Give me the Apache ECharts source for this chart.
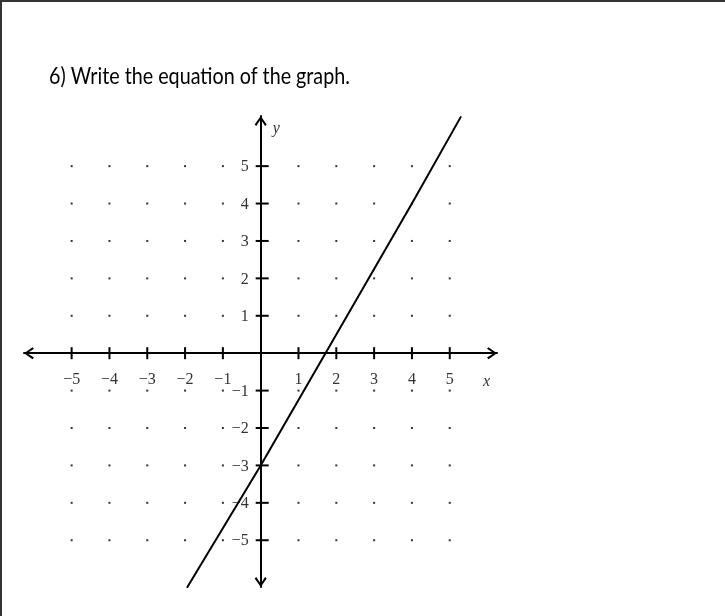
<!DOCTYPE html>
<html>
<head>
<meta charset="utf-8">
<script src="https://cdn.jsdelivr.net/npm/echarts@6/dist/echarts.min.js"></script>
<style>
html, body { margin: 0; padding: 0; background: #fff; }
#main { width: 725px; height: 616px; }
</style>
</head>
<body>
<div id="main"></div>
<script>
// data
var titleText = '6) Write the equation of the graph.';
var tickValues = [-5, -4, -3, -2, -1, 1, 2, 3, 4, 5];
var lineX = [-1.95, 0, 4, 5.3];
var lineY = [-6.27, -3, 4, 6.33];
var xRange = [-6.26, 6.25];
var yRange = [-6.25, 6.34];

var arrowPath = 'path://M6,0 L12,8.5 L10.4,10 L6,3.2 L1.6,10 L0,8.5 Z';
var serif = "'Liberation Serif', 'Times New Roman', serif";

function fmt(v) {
    return String(v).replace('-', '\u2212');
}

var dots = [];
tickValues.forEach(function (x) {
    tickValues.forEach(function (y) {
        dots.push([x, y]);
    });
});

// [x, y, 0 = tick on x axis / 1 = tick on y axis]
var ticks = [];
tickValues.forEach(function (v) {
    ticks.push([v, 0, 0]);
    ticks.push([0, v, 1]);
});

var linePts = lineX.map(function (x, i) { return [x, lineY[i]]; });

var dom = document.getElementById('main');
var myChart = echarts.init(dom);
var option = {
    animation: false,
    backgroundColor: '#fff',
    graphic: [{
        type: 'polyline',
        shape: { points: [[1, 616], [1, 1], [725, 1]] },
        style: { stroke: '#333', lineWidth: 2, fill: null },
        silent: true
    }, {
        // title, narrowed a bit to get close to the original Calibri look
        type: 'text',
        x: 49,
        y: 77,
        scaleX: 0.857,
        style: {
            text: titleText,
            font: "23px 'Lato', 'Noto Sans', sans-serif",
            fill: '#000',
            align: 'left',
            verticalAlign: 'middle'
        },
        silent: true
    }],
    grid: {
        left: 24,
        top: 116,
        width: 473,
        height: 471,
        containLabel: false,
        outerBoundsMode: 'none'
    },
    xAxis: {
        type: 'value',
        min: xRange[0],
        max: xRange[1],
        splitLine: { show: false },
        axisTick: { show: false },
        axisLabel: { show: false },
        axisLine: {
            onZero: true,
            symbol: [arrowPath, arrowPath],
            symbolSize: [13, 10],
            symbolOffset: [5, -5],
            lineStyle: { color: '#000', width: 2 }
        },
        name: 'x',
        nameLocation: 'end',
        nameGap: -14,
        nameMoveOverlap: false,
        nameTextStyle: {
            fontFamily: serif,
            fontStyle: 'italic',
            fontSize: 16,
            color: '#333',
            align: 'left',
            verticalAlign: 'top',
            padding: [21, 0, 0, 0]
        }
    },
    yAxis: {
        type: 'value',
        min: yRange[0],
        max: yRange[1],
        splitLine: { show: false },
        axisTick: { show: false },
        axisLabel: { show: false },
        axisLine: {
            onZero: true,
            symbol: [arrowPath, arrowPath],
            symbolSize: [13, 10],
            symbolOffset: [5, -5],
            lineStyle: { color: '#000', width: 2 }
        },
        name: 'y',
        nameLocation: 'end',
        nameGap: -13,
        nameMoveOverlap: false,
        nameTextStyle: {
            fontFamily: serif,
            fontStyle: 'italic',
            fontSize: 16,
            color: '#333',
            align: 'left',
            verticalAlign: 'middle',
            padding: [0, 0, 0, 12]
        }
    },
    series: [{
        type: 'scatter',
        data: dots,
        symbol: 'rect',
        symbolSize: 2,
        itemStyle: { color: '#000' },
        silent: true
    }, {
        type: 'custom',
        data: ticks,
        silent: true,
        renderItem: function (params, api) {
            var isX = api.value(2) === 0;
            var v = isX ? api.value(0) : api.value(1);
            var p = api.coord([api.value(0), api.value(1)]);
            var shape, label;
            if (isX) {
                shape = { x1: p[0], y1: p[1] - 6, x2: p[0], y2: p[1] + 6 };
                label = {
                    type: 'text', x: p[0], y: p[1] + 27,
                    style: { text: fmt(v), font: '16px ' + serif, fill: '#333', align: 'center', verticalAlign: 'middle' }
                };
            } else {
                shape = { x1: p[0] - 5, y1: p[1], x2: p[0] + 8, y2: p[1] };
                label = {
                    type: 'text', x: p[0] - 12, y: p[1] + 1,
                    style: { text: fmt(v), font: '16px ' + serif, fill: '#333', align: 'right', verticalAlign: 'middle' }
                };
            }
            return {
                type: 'group',
                children: [{
                    type: 'line',
                    shape: shape,
                    style: { stroke: '#000', lineWidth: 2 }
                }, label]
            };
        },
        z: 3
    }, {
        type: 'line',
        data: linePts,
        symbol: 'none',
        clip: false,
        lineStyle: { color: '#000', width: 2 },
        silent: true,
        z: 4
    }]
};
if (option && typeof option === "object") {
    myChart.setOption(option, true);
}
</script>
</body>
</html>
